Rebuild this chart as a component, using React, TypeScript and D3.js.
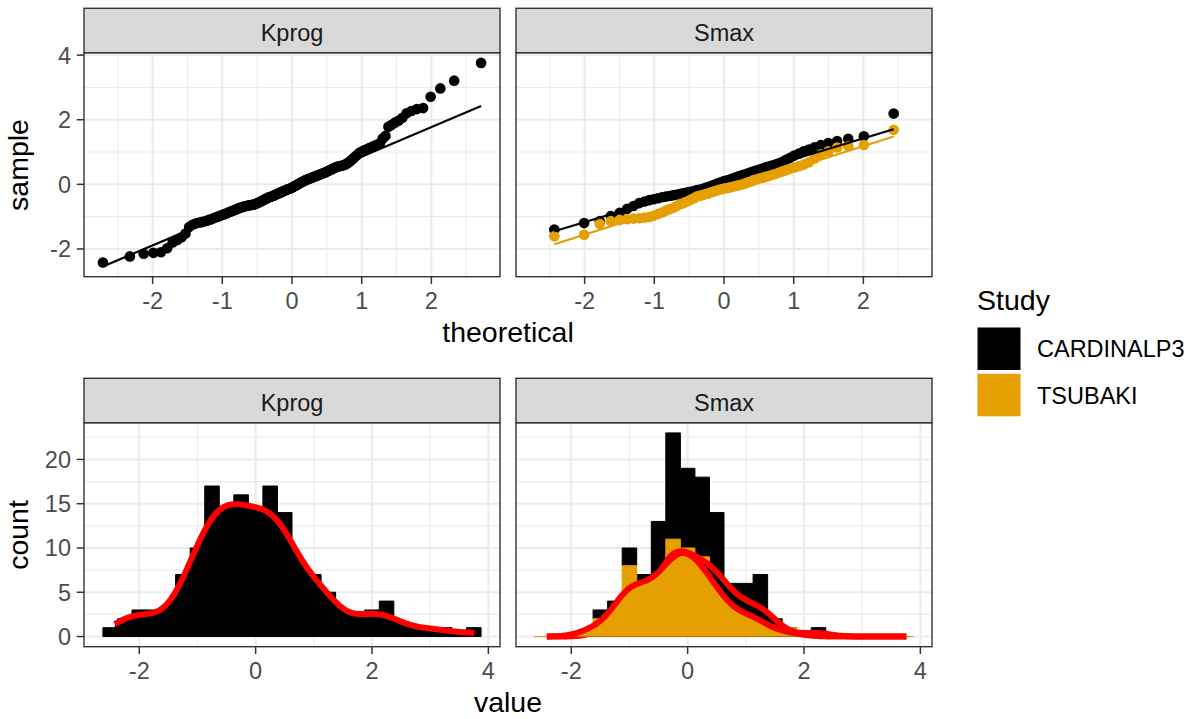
import React from 'react';
import * as d3 from 'd3';

// Facet labels, study levels and their colours
const PARAMETERS = ['Kprog', 'Smax'];
const STUDIES = ['CARDINALP3', 'TSUBAKI'];
const STUDY_COLORS: Record<string, string> = { CARDINALP3: '#000000', TSUBAKI: '#E69F00' };
const DENSITY_LINE = '#FF0000';

// Standardised values per parameter and study (sorted)
const kprogCardinal = [
  -2.42, -2.23, -2.15, -2.12, -2.1, -1.98, -1.8, -1.72, -1.64, -1.52,
  -1.32, -1.25, -1.21, -1.19, -1.17, -1.15, -1.13,
  -1.1, -1.08, -1.05, -1.02, -1.0, -0.98, -0.95, -0.93, -0.91, -0.89,
  -0.86, -0.84, -0.82, -0.8, -0.78, -0.76, -0.74, -0.72, -0.71, -0.69, -0.68, -0.67, -0.66, -0.65, -0.64, -0.635, -0.63,
  -0.62, -0.6, -0.58, -0.56, -0.54, -0.52, -0.5, -0.48, -0.46, -0.44, -0.42, -0.4, -0.39, -0.38,
  -0.36, -0.35, -0.33, -0.31, -0.3, -0.28, -0.26, -0.25, -0.23, -0.21, -0.2, -0.18, -0.17, -0.15, -0.14, -0.13,
  -0.11, -0.09, -0.07, -0.05, -0.03, -0.01, 0.01, 0.03, 0.05, 0.07, 0.09, 0.11,
  0.13, 0.14, 0.16, 0.17, 0.19, 0.2, 0.22, 0.23, 0.25, 0.26, 0.28, 0.29, 0.31, 0.32, 0.34, 0.35, 0.37,
  0.39, 0.41, 0.43, 0.45, 0.47, 0.49, 0.51, 0.53, 0.55, 0.56, 0.57, 0.58, 0.59, 0.61,
  0.64, 0.67, 0.71, 0.75, 0.8, 0.85,
  0.9, 0.95, 0.99, 1.02, 1.05, 1.08, 1.11,
  1.14, 1.17, 1.2, 1.23, 1.27,
  1.42, 1.5, 1.78, 1.84, 1.91, 1.97, 2.06, 2.2, 2.27, 2.33, 2.36,
  2.71, 2.97, 3.21, 3.76,
];

const smaxCardinal = [
  -1.4, -1.2, -1.14, -0.98, -0.88, -0.76, -0.67,
  -0.58, -0.53, -0.49, -0.46, -0.43, -0.4, -0.38,
  -0.36, -0.34, -0.32, -0.3, -0.28, -0.26, -0.24, -0.22, -0.2, -0.18, -0.16, -0.14,
  -0.11, -0.08, -0.05, -0.02, 0.01, 0.04, 0.07, 0.1, 0.12,
  0.14, 0.17, 0.2, 0.23, 0.26, 0.29, 0.31, 0.34, 0.37,
  0.4, 0.43, 0.46, 0.49, 0.52, 0.55, 0.58, 0.61,
  0.65, 0.7, 0.76, 0.82, 0.89, 0.95, 1.02, 1.08,
  1.15, 1.22, 1.28, 1.34, 1.41, 1.49, 2.19,
];

const smaxTsubaki = [
  -1.61, -1.56, -1.22, -1.14,
  -1.1, -1.08, -1.06, -1.05, -1.03, -1.01, -0.97, -0.92,
  -0.87, -0.82, -0.77, -0.73, -0.68,
  -0.62, -0.59, -0.55, -0.51, -0.46, -0.42,
  -0.37, -0.35, -0.33, -0.3, -0.28, -0.25, -0.22, -0.2, -0.17, -0.15, -0.13,
  -0.12, -0.1, -0.08, -0.06, -0.04, -0.02, 0.0, 0.03, 0.06, 0.09,
  0.13, 0.15, 0.18, 0.2, 0.23, 0.26, 0.29, 0.32, 0.36,
  0.4, 0.44, 0.48, 0.52, 0.56, 0.61,
  0.68, 0.8, 0.93, 1.02, 1.14, 1.18, 1.22, 1.69,
];

const BIN_WIDTH = 0.25;
const QQ_X_TICKS = [-2, -1, 0, 1, 2];
const QQ_Y_TICKS = [-2, 0, 2, 4];
const HIST_X_TICKS = [-2, 0, 2, 4];
const HIST_Y_TICKS = [0, 5, 10, 15, 20];

const SAMPLES = [
  { param: 'Kprog', study: 'CARDINALP3', values: kprogCardinal },
  { param: 'Smax', study: 'CARDINALP3', values: smaxCardinal },
  { param: 'Smax', study: 'TSUBAKI', values: smaxTsubaki },
];

const FONT = "'Liberation Sans', Arial, Helvetica, sans-serif";

// Acklam's rational approximation of the standard normal quantile function
function qnorm(p: number): number {
  const a = [-3.969683028665376e1, 2.209460984245205e2, -2.759285104469687e2, 1.38357751867269e2, -3.066479806614716e1, 2.506628277459239];
  const b = [-5.447609879822406e1, 1.615858368580409e2, -1.556989798598866e2, 6.680131188771972e1, -1.328068155288572e1];
  const c = [-7.784894002430293e-3, -3.223964580411365e-1, -2.400758277161838, -2.549732539343734, 4.374664141464968, 2.938163982698783];
  const d = [7.784695709041462e-3, 3.224671290700398e-1, 2.445134137142996, 3.754408661907416];
  const pLow = 0.02425;
  if (p < pLow) {
    const q = Math.sqrt(-2 * Math.log(p));
    return (((((c[0] * q + c[1]) * q + c[2]) * q + c[3]) * q + c[4]) * q + c[5]) / ((((d[0] * q + d[1]) * q + d[2]) * q + d[3]) * q + 1);
  }
  if (p <= 1 - pLow) {
    const q = p - 0.5;
    const r = q * q;
    return ((((((a[0] * r + a[1]) * r + a[2]) * r + a[3]) * r + a[4]) * r + a[5]) * q) / (((((b[0] * r + b[1]) * r + b[2]) * r + b[3]) * r + b[4]) * r + 1);
  }
  const q = Math.sqrt(-2 * Math.log(1 - p));
  return -(((((c[0] * q + c[1]) * q + c[2]) * q + c[3]) * q + c[4]) * q + c[5]) / ((((d[0] * q + d[1]) * q + d[2]) * q + d[3]) * q + 1);
}

const expand = ([lo, hi]: number[]) => [lo - (hi - lo) * 0.05, hi + (hi - lo) * 0.05];

function minorBreaks(majors: number[], domain: number[]) {
  const step = majors[1] - majors[0];
  const ext = [majors[0] - step, ...majors, majors[majors.length - 1] + step];
  const out: number[] = [];
  for (let i = 0; i < ext.length - 1; i++) {
    const m = (ext[i] + ext[i + 1]) / 2;
    if (m >= domain[0] && m <= domain[1]) out.push(m);
  }
  return out;
}

// ---- Q-Q statistics ----
const qqGroups = SAMPLES.map((s) => {
  const sorted = [...s.values].sort(d3.ascending);
  const n = sorted.length;
  const a = n <= 10 ? 3 / 8 : 0.5;
  const pts = sorted.map((v, i) => ({ t: qnorm((i + 1 - a) / (n + 1 - 2 * a)), s: v }));
  const q1 = d3.quantile(sorted, 0.25) as number;
  const q3 = d3.quantile(sorted, 0.75) as number;
  const z1 = qnorm(0.25);
  const z3 = qnorm(0.75);
  const slope = (q3 - q1) / (z3 - z1);
  const intercept = q1 - slope * z1;
  const t0 = pts[0].t;
  const t1 = pts[n - 1].t;
  return { ...s, pts, line: [[t0, intercept + slope * t0], [t1, intercept + slope * t1]] as [number, number][] };
});

// ---- Histogram + density statistics ----
const allValues = SAMPLES.flatMap((s) => s.values);
const [vMin, vMax] = d3.extent(allValues) as [number, number];
const boundary = BIN_WIDTH / 2;
const origin = boundary + Math.floor((vMin - boundary) / BIN_WIDTH) * BIN_WIDTH;
const edges: number[] = [];
for (let e = origin; e <= vMax + (1 - 1e-8) * BIN_WIDTH; e += BIN_WIDTH) edges.push(+e.toFixed(10));

function countBins(values: number[]) {
  const counts = new Array(edges.length - 1).fill(0);
  values.forEach((v) => {
    for (let k = 0; k < edges.length - 1; k++) {
      if ((v > edges[k] || (k === 0 && v >= edges[k])) && v <= edges[k + 1]) {
        counts[k]++;
        break;
      }
    }
  });
  return counts;
}

function kde(values: number[], from: number, to: number, n = 512) {
  const sd = d3.deviation(values) as number;
  const iqr = (d3.quantile(values, 0.75) as number) - (d3.quantile(values, 0.25) as number);
  const bw = 0.9 * Math.min(sd, iqr / 1.34) * Math.pow(values.length, -0.2);
  const norm = values.length * bw * Math.sqrt(2 * Math.PI);
  return d3.range(n).map((i) => {
    const x = from + ((to - from) * i) / (n - 1);
    const dens = d3.sum(values, (v) => Math.exp(-0.5 * ((x - v) / bw) ** 2)) / norm;
    return [x, dens * values.length * BIN_WIDTH] as [number, number];
  });
}

const histByParam = PARAMETERS.map((param) => {
  const groups = SAMPLES.filter((s) => s.param === param);
  const counts = groups.map((g) => countBins(g.values));
  // later study levels sit at the bottom of each stack
  const bars: { study: string; x0: number; x1: number; y0: number; y1: number }[] = [];
  const base = new Array(edges.length - 1).fill(0);
  const stacked = groups.map(() => [] as { x0: number; x1: number; y0: number; y1: number }[]);
  for (let gi = groups.length - 1; gi >= 0; gi--) {
    counts[gi].forEach((c: number, k: number) => {
      stacked[gi][k] = { x0: edges[k], x1: edges[k + 1], y0: base[k], y1: base[k] + c };
      base[k] += c;
    });
  }
  groups.forEach((g, gi) => stacked[gi].forEach((b) => bars.push({ study: g.study, ...b })));
  const densities = groups.map((g) => ({ study: g.study, curve: kde(g.values, vMin, vMax) }));
  return { param, bars, densities, maxTop: d3.max(base) as number };
});

export default function App() {
  const W = 1193;
  const H = 719;
  const cols = [84, 516];
  const pw = 416;
  const ph = 224;
  const rowTop = [52.7, 422.7];
  const stripH = 44.4;

  // shared scales for each row
  const qqXDomain = expand(d3.extent(qqGroups.flatMap((g) => g.pts.map((p) => p.t))) as number[]);
  const qqYDomain = expand(
    d3.extent(qqGroups.flatMap((g) => [...g.pts.map((p) => p.s), g.line[0][1], g.line[1][1]])) as number[]
  );
  const qqX = d3.scaleLinear().domain(qqXDomain).range([0, pw]);
  const qqY = d3.scaleLinear().domain(qqYDomain).range([ph, 0]);

  const densMax = d3.max(histByParam.flatMap((h) => h.densities.flatMap((d) => d.curve.map((p) => p[1])))) as number;
  const histXDomain = expand([edges[0], edges[edges.length - 1]]);
  const histYDomain = expand([0, Math.max(d3.max(histByParam, (h) => h.maxTop) as number, densMax)]);
  const hX = d3.scaleLinear().domain(histXDomain).range([0, pw]);
  const hY = d3.scaleLinear().domain(histYDomain).range([ph, 0]);

  const renderPanel = (
    key: string,
    left: number,
    top: number,
    label: string,
    xs: d3.ScaleLinear<number, number>,
    ys: d3.ScaleLinear<number, number>,
    xTicks: number[],
    yTicks: number[],
    showY: boolean,
    content: React.ReactNode
  ) => {
    const xMinor = minorBreaks(xTicks, xs.domain());
    const yMinor = minorBreaks(yTicks, ys.domain());
    return (
      <g key={key} transform={`translate(${left},${top})`}>
        <defs>
          <clipPath id={`clip-${key}`}>
            <rect x={0} y={0} width={pw} height={ph} />
          </clipPath>
        </defs>
        <rect x={0} y={0} width={pw} height={ph} fill="#FFFFFF" />
        {xMinor.map((v) => (
          <line key={`xm${v}`} x1={xs(v)} x2={xs(v)} y1={0} y2={ph} stroke="#EBEBEB" strokeWidth={1.1} />
        ))}
        {yMinor.map((v) => (
          <line key={`ym${v}`} x1={0} x2={pw} y1={ys(v)} y2={ys(v)} stroke="#EBEBEB" strokeWidth={1.1} />
        ))}
        {xTicks.map((v) => (
          <line key={`xM${v}`} x1={xs(v)} x2={xs(v)} y1={0} y2={ph} stroke="#EBEBEB" strokeWidth={2} />
        ))}
        {yTicks.map((v) => (
          <line key={`yM${v}`} x1={0} x2={pw} y1={ys(v)} y2={ys(v)} stroke="#EBEBEB" strokeWidth={2} />
        ))}
        <g clipPath={`url(#clip-${key})`}>{content}</g>
        <rect x={0} y={0} width={pw} height={ph} fill="none" stroke="#333333" strokeWidth={1.4} />
        <rect x={0} y={-stripH} width={pw} height={stripH} fill="#D9D9D9" stroke="#333333" strokeWidth={1.4} />
        <text x={pw / 2} y={-11.7} textAnchor="middle" fontFamily={FONT} fontSize={23.5} fill="#1A1A1A">
          {label}
        </text>
        {xTicks.map((v) => (
          <g key={`xt${v}`}>
            <line x1={xs(v)} x2={xs(v)} y1={ph} y2={ph + 7.3} stroke="#333333" strokeWidth={1.5} />
            <text x={xs(v)} y={ph + 32.3} textAnchor="middle" fontFamily={FONT} fontSize={23.5} fill="#4D4D4D">
              {String(v)}
            </text>
          </g>
        ))}
        {showY &&
          yTicks.map((v) => (
            <g key={`yt${v}`}>
              <line x1={-7.3} x2={0} y1={ys(v)} y2={ys(v)} stroke="#333333" strokeWidth={1.5} />
              <text x={-13} y={ys(v) + 8.4} textAnchor="end" fontFamily={FONT} fontSize={23.5} fill="#4D4D4D">
                {String(v)}
              </text>
            </g>
          ))}
      </g>
    );
  };

  const qqContent = (param: string) => {
    const groups = qqGroups.filter((g) => g.param === param);
    const line = d3.line<[number, number]>().x((d) => qqX(d[0])).y((d) => qqY(d[1]));
    return (
      <>
        {groups.map((g) => (
          <g key={`pts-${g.study}`}>
            {g.pts.map((p, i) => (
              <circle key={i} cx={qqX(p.t)} cy={qqY(p.s)} r={5.3} fill={STUDY_COLORS[g.study]} />
            ))}
          </g>
        ))}
        {groups.map((g) => (
          <path key={`ln-${g.study}`} d={line(g.line) || ''} fill="none" stroke={STUDY_COLORS[g.study]} strokeWidth={2.2} />
        ))}
      </>
    );
  };

  const histContent = (param: string) => {
    const h = histByParam.find((d) => d.param === param)!;
    const area = d3
      .area<[number, number]>()
      .x((d) => hX(d[0]))
      .y0(hY(0))
      .y1((d) => hY(d[1]));
    const upper = d3
      .line<[number, number]>()
      .x((d) => hX(d[0]))
      .y((d) => hY(d[1]));
    return (
      <>
        {h.bars.map((b, i) => {
          const x0 = hX(b.x0);
          const x1 = hX(b.x1);
          const y0 = hY(b.y0);
          const y1 = hY(b.y1);
          return (
            <path
              key={`bar${i}`}
              d={`M${x0},${y0}H${x1}V${y1}H${x0}Z`}
              fill={STUDY_COLORS[b.study]}
              stroke={STUDY_COLORS[b.study]}
              strokeWidth={1}
            />
          );
        })}
        {h.densities.map((d) => (
          <g key={`dens-${d.study}`}>
            <path d={area(d.curve) || ''} fill={STUDY_COLORS[d.study]} />
            <path d={upper(d.curve) || ''} fill="none" stroke={DENSITY_LINE} strokeWidth={6} strokeLinejoin="round" />
          </g>
        ))}
      </>
    );
  };

  return (
    <svg
      width={W}
      height={H}
      viewBox={`0 0 ${W} ${H}`}
      style={{ position: 'absolute', left: 0, top: 0, background: '#FFFFFF' }}
    >
      <rect x={0} y={0} width={W} height={H} fill="#FFFFFF" />
      {PARAMETERS.map((p, ci) =>
        renderPanel(`qq-${p}`, cols[ci], rowTop[0], p, qqX, qqY, QQ_X_TICKS, QQ_Y_TICKS, ci === 0, qqContent(p))
      )}
      {PARAMETERS.map((p, ci) =>
        renderPanel(`hist-${p}`, cols[ci], rowTop[1], p, hX, hY, HIST_X_TICKS, HIST_Y_TICKS, ci === 0, histContent(p))
      )}

      {/* axis titles */}
      <text x={508} y={342} textAnchor="middle" fontFamily={FONT} fontSize={28.5} fill="#000000">
        theoretical
      </text>
      <text x={508} y={712} textAnchor="middle" fontFamily={FONT} fontSize={28.5} fill="#000000">
        value
      </text>
      <text transform="translate(28,165) rotate(-90)" textAnchor="middle" fontFamily={FONT} fontSize={28.5} fill="#000000">
        sample
      </text>
      <text transform="translate(28,535) rotate(-90)" textAnchor="middle" fontFamily={FONT} fontSize={28.5} fill="#000000">
        count
      </text>

      {/* legend */}
      <text x={977} y={310} fontFamily={FONT} fontSize={28.5} fill="#000000">
        Study
      </text>
      {STUDIES.map((s, i) => (
        <g key={s} transform={`translate(978,${328 + i * 46.3})`}>
          <rect x={0} y={0} width={42} height={41.5} fill={STUDY_COLORS[s]} stroke={STUDY_COLORS[s]} strokeWidth={1} />
          <text x={59} y={29.3} fontFamily={FONT} fontSize={23.5} fill="#000000">
            {s}
          </text>
        </g>
      ))}
    </svg>
  );
}
